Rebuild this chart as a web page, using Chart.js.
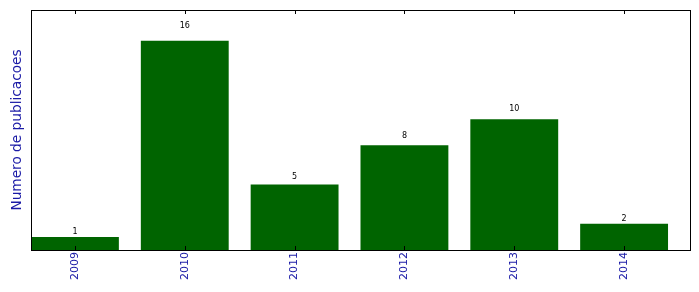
<!DOCTYPE html>
<html>
<head>
<meta charset="utf-8">
<script src="https://cdn.jsdelivr.net/npm/chart.js@4/dist/chart.umd.min.js"></script>
<style>
  html, body { margin: 0; padding: 0; background: #fff; }
  #wrap { width: 699px; height: 292px; position: relative; }
</style>
</head>
<body>
<div id="wrap"><canvas id="chart"></canvas></div>
<script>
// donnees du graphique
const anos = ['2009', '2010', '2011', '2012', '2013', '2014'];
const publicacoes = [1, 16, 5, 8, 10, 2];
const tituloY = 'Numero de publicacoes';

const azul = '#1a1aa6';

// cadre noir + petits ticks vers l'interieur + valeurs au-dessus des barres
const extras = {
  id: 'extras',
  afterDatasetsDraw(chart) {
    const { ctx, chartArea: a, scales } = chart;
    const x = scales.x, y = scales.y;
    ctx.save();
    // valeurs
    ctx.fillStyle = '#000';
    ctx.font = '8px "DejaVu Sans"';
    ctx.textAlign = 'center';
    ctx.textBaseline = 'bottom';
    publicacoes.forEach((v, i) => {
      ctx.fillText(String(v), x.getPixelForValue(i), y.getPixelForValue(v * 1.05));
    });
    // ticks haut et bas
    ctx.strokeStyle = '#000';
    ctx.lineWidth = 1;
    ctx.beginPath();
    anos.forEach((_, i) => {
      const px = Math.round(x.getPixelForValue(i)) + 0.5;
      ctx.moveTo(px, a.bottom);
      ctx.lineTo(px, a.bottom - 4);
      ctx.moveTo(px, a.top);
      ctx.lineTo(px, a.top + 4);
    });
    ctx.stroke();
    // cadre
    ctx.strokeRect(Math.round(a.left) + 0.5, Math.round(a.top) + 0.5,
      Math.round(a.right - a.left), Math.round(a.bottom - a.top));
    ctx.restore();
  }
};

new Chart(document.getElementById('chart'), {
  type: 'bar',
  data: {
    datasets: [{
      data: publicacoes.map((v, i) => ({ x: i, y: v })),
      backgroundColor: '#006400',
      borderWidth: 0,
      categoryPercentage: 0.8,
      barPercentage: 1.0
    }]
  },
  options: {
    responsive: true,
    maintainAspectRatio: false,
    animation: false,
    layout: { padding: { top: 10, right: 9, left: 0, bottom: 0 } },
    plugins: {
      legend: { display: false },
      tooltip: { enabled: false }
    },
    scales: {
      x: {
        type: 'linear',
        offset: false,
        min: -0.4,
        max: 5.6,
        afterBuildTicks: (scale) => { scale.ticks = anos.map((_, i) => ({ value: i })); },
        afterFit: (scale) => { scale.height = 42; },
        grid: { display: false, drawTicks: false, offset: false },
        border: { display: false },
        ticks: {
          autoSkip: false,
          minRotation: 90,
          maxRotation: 90,
          padding: 2,
          color: azul,
          font: { family: 'DejaVu Sans', size: 11 },
          callback: (value) => anos[value] ?? ''
        }
      },
      y: {
        min: 0,
        max: 18.35,
        afterFit: (scale) => { scale.width = 31; },
        grid: { display: false, drawTicks: false },
        border: { display: false },
        ticks: { display: false },
        title: {
          display: true,
          text: tituloY,
          color: azul,
          font: { family: 'DejaVu Sans', size: 13.7 },
          padding: { top: 9, bottom: 0 }
        }
      }
    }
  },
  plugins: [extras]
});
</script>
</body>
</html>
